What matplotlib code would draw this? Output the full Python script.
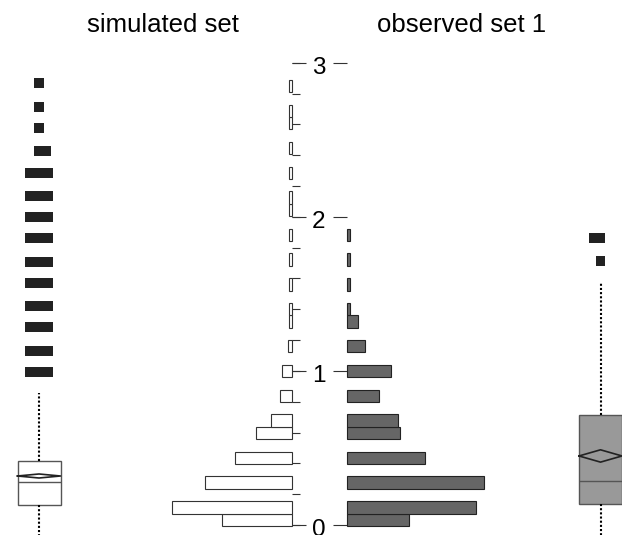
import numpy as np
import matplotlib.pyplot as plt

# histogram bins (index on a regular grid) and heights, both sides
BIN_START = -0.006
BIN_W = 0.0804
sim_bins = [0, 1, 3, 5, 7, 8, 10, 12, 14, 16, 17, 19, 21, 23, 25, 26, 28, 30, 32, 33, 35]
sim_counts = [47, 80, 58, 38, 24, 14, 8, 7, 3, 2, 2, 2, 2, 2, 2, 2, 2, 2, 2, 2, 2]
obs_bins = [0, 1, 3, 5, 7, 8, 10, 12, 14, 16, 17, 19, 21, 23]
obs_counts = [41, 86, 91, 52, 35, 34, 21, 29, 12, 7, 2, 2, 2, 2]

# box plot summaries
sim_box = dict(whislo=-0.2, q1=0.130, med=0.281, q3=0.417, whishi=0.855)
sim_mean, sim_mean_ci = 0.318, 0.013
obs_box = dict(whislo=-0.2, q1=0.134, med=0.287, q3=0.714, whishi=1.579)
obs_mean, obs_mean_ci = 0.448, 0.040

# outliers: value and how many points sit at that value
sim_out_vals = [0.993, 1.129, 1.285, 1.421, 1.570, 1.707, 1.862, 1.999,
                2.135, 2.284, 2.427, 2.576, 2.713, 2.868]
sim_out_n = [3, 3, 3, 3, 3, 3, 3, 3, 3, 3, 2, 1, 1, 1]
obs_out_vals = [1.713, 1.862]
obs_out_n = [1, 2]

titles = ["simulated set", "observed set 1"]
major = [0, 1, 2, 3]
minor = np.arange(0, 3.01, 0.2)

# layout (x in pixels, y in data units)
PX = 1.5          # px per count
LEFT_BASE, RIGHT_BASE, MID = 292.3, 347.3, 318.5
SIM_X, OBS_X, BOX_W = 39.0, 600.5, 43.0
SQ_W, SQ_H = 9.7, 0.061

fig = plt.figure(figsize=(6.22, 5.35), dpi=100)
ax = fig.add_axes([0, 0, 1, 1])
ax.set_xlim(0, 622)
ax.set_ylim(-10 / 154.1, 525 / 154.1)
ax.axis("off")

# axis ticks and labels in the middle
ax.hlines(minor, LEFT_BASE, LEFT_BASE + 8, color="#333333", lw=0.8, zorder=1)
ax.hlines(major, LEFT_BASE, LEFT_BASE + 14, color="#333333", lw=0.8, zorder=1)
ax.hlines(major, RIGHT_BASE - 14, RIGHT_BASE, color="#333333", lw=0.8, zorder=1)
for v in major:
    ax.text(MID, v - 0.035, str(v), ha="center", va="center", fontsize=17.5,
            family="Liberation Sans")

# back-to-back histogram
sim_lo = BIN_START + np.array(sim_bins) * BIN_W
obs_lo = BIN_START + np.array(obs_bins) * BIN_W
ax.barh(sim_lo, -np.array(sim_counts) * PX, left=LEFT_BASE, height=BIN_W,
        align="edge", color="white", edgecolor="#333333", lw=0.8, zorder=2)
ax.barh(obs_lo, np.array(obs_counts) * PX, left=RIGHT_BASE, height=BIN_W,
        align="edge", color="#666666", edgecolor="#222222", lw=0.8, zorder=2)


def draw_box(stats, mean, ci, xc, face):
    st = dict(stats)
    st["mean"] = mean
    ax.bxp([st], positions=[xc], widths=BOX_W, patch_artist=True,
           showcaps=False, showfliers=False,
           boxprops=dict(facecolor=face, edgecolor="#555555", lw=1.0),
           medianprops=dict(color="#555555", lw=1.0),
           whiskerprops=dict(color="black", lw=1.5, linestyle=(0, (1, 1))))
    hw = BOX_W / 2
    ax.plot([xc - hw, xc, xc + hw, xc, xc - hw],
            [mean, mean + ci, mean, mean - ci, mean],
            color="#222222", lw=1.2, zorder=4)


def draw_outliers(vals, counts, xc, toward):
    offs = {1: [0], 2: [0, 7 * toward], 3: [-9.5, 0, 9.5]}
    for v, n in zip(vals, counts):
        xs = [xc + o for o in offs[n]]
        ax.bar(xs, SQ_H, width=SQ_W, bottom=v - SQ_H / 2,
               color="#222222", lw=0, zorder=3)


draw_box(sim_box, sim_mean, sim_mean_ci, SIM_X, "white")
draw_box(obs_box, obs_mean, obs_mean_ci, OBS_X, "#999999")
draw_outliers(sim_out_vals, sim_out_n, SIM_X, 1)
draw_outliers(obs_out_vals, obs_out_n, OBS_X, -1)

fig.text(163 / 622, 1 - 25 / 535, titles[0], ha="center", va="center",
         fontsize=18.5, family="Liberation Sans")
fig.text(462 / 622, 1 - 25 / 535, titles[1], ha="center", va="center",
         fontsize=18.5, family="Liberation Sans")

fig.savefig("out.png", dpi=100)
